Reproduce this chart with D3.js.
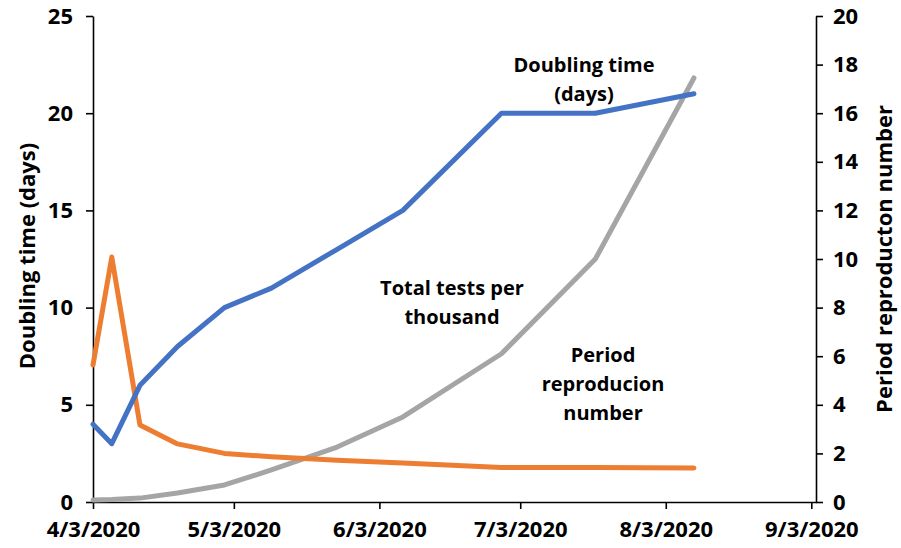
<!DOCTYPE html>
<html>
<head>
<meta charset="utf-8">
<script src="https://cdn.jsdelivr.net/npm/d3@7"></script>
<style>
  body { margin: 0; background: #fff; }
  svg text { font-family: "Open Sans", Lato, sans-serif; font-weight: bold; fill: #000; }
</style>
</head>
<body>
<script>
// data
const dates = ["4/3/2020", "4/7/2020", "4/13/2020", "4/21/2020", "5/1/2020", "5/11/2020",
	"5/25/2020", "6/8/2020", "6/29/2020", "7/19/2020", "8/9/2020"];
const doublingTime = [4, 3, 6, 8, 10, 11, 13, 15, 20, 20, 21];
const reproduction = [5.64, 10.08, 3.17, 2.39, 2.0, 1.86, 1.72, 1.6, 1.42, 1.42, 1.4];
const testsPerThousand = [0.08, 0.1, 0.16, 0.37, 0.7, 1.32, 2.26, 3.5, 6.1, 10.0, 17.45];
const xTicks = ["4/3/2020", "5/3/2020", "6/3/2020", "7/3/2020", "8/3/2020", "9/3/2020"];
const leftTicks = [0, 5, 10, 15, 20, 25];
const rightTicks = [0, 2, 4, 6, 8, 10, 12, 14, 16, 18, 20];

const width = 901, height = 548;
const parse = d3.timeParse("%m/%d/%Y");

const svg = d3.select("body").append("svg")
	.attr("width", width)
	.attr("height", height);

const x = d3.scaleTime()
	.domain([parse("4/3/2020"), parse("9/4/2020")])
	.range([93, 816]);
const yLeft = d3.scaleLinear().domain([0, 25]).range([502, 16]);
const yRight = d3.scaleLinear().domain([0, 20]).range([502, 16]);

// axes
const xAxis = svg.append("g")
	.attr("transform", "translate(0,502)")
	.call(d3.axisBottom(x)
		.tickValues(xTicks.map(parse))
		.tickFormat(d3.timeFormat("%-m/%-d/%Y"))
		.tickSize(7)
		.tickSizeOuter(0));

const leftAxis = svg.append("g")
	.attr("transform", "translate(93,0)")
	.call(d3.axisLeft(yLeft).tickValues(leftTicks).tickSize(7).tickSizeOuter(0));

const rightAxis = svg.append("g")
	.attr("transform", "translate(816,0)")
	.call(d3.axisRight(yRight).tickValues(rightTicks).tickSize(7).tickSizeOuter(0));

svg.selectAll(".domain, .tick line")
	.attr("stroke", "#000")
	.attr("stroke-width", 1.6);

svg.selectAll(".tick text")
	.style("font-family", "'Open Sans', Lato, sans-serif")
	.style("font-weight", "bold")
	.attr("font-size", 22);
xAxis.selectAll("text").attr("dy", "0.6em").attr("y", 22);
leftAxis.selectAll("text").attr("x", -20);
rightAxis.selectAll("text").attr("x", 17);

// axis titles
svg.append("text")
	.attr("transform", "translate(35,256) rotate(-90)")
	.attr("text-anchor", "middle")
	.attr("font-size", 22)
	.text("Doubling time (days)");

svg.append("text")
	.attr("transform", "translate(892,259) rotate(-90)")
	.attr("text-anchor", "middle")
	.attr("font-size", 22)
	.text("Period reproducton number");

// lines
const series = [
	{ values: testsPerThousand, scale: yRight, color: "#a5a5a5" },
	{ values: reproduction, scale: yRight, color: "#ed7d31" },
	{ values: doublingTime, scale: yLeft, color: "#4472c4" }
];

series.forEach((s) => {
	const line = d3.line()
		.x((d, i) => x(parse(dates[i])))
		.y((d) => s.scale(d));
	svg.append("path")
		.datum(s.values)
		.attr("fill", "none")
		.attr("stroke", s.color)
		.attr("stroke-width", 5)
		.attr("stroke-linejoin", "round")
		.attr("stroke-linecap", "round")
		.attr("d", line);
});

// annotations
const notes = [
	{ lines: ["Doubling time", "(days)"], x: 584, y: 65 },
	{ lines: ["Total tests per", "thousand"], x: 452, y: 288 },
	{ lines: ["Period", "reproducion", "number"], x: 603, y: 355 }
];

notes.forEach((n) => {
	const t = svg.append("text")
		.attr("text-anchor", "middle")
		.attr("font-size", 20)
		.attr("x", n.x)
		.attr("y", n.y)
		.attr("dy", "0.35em");
	t.selectAll("tspan")
		.data(n.lines)
		.join("tspan")
		.attr("x", n.x)
		.attr("dy", (d, i) => (i === 0 ? "0.35em" : "1.45em"))
		.text((d) => d);
});
</script>
</body>
</html>
